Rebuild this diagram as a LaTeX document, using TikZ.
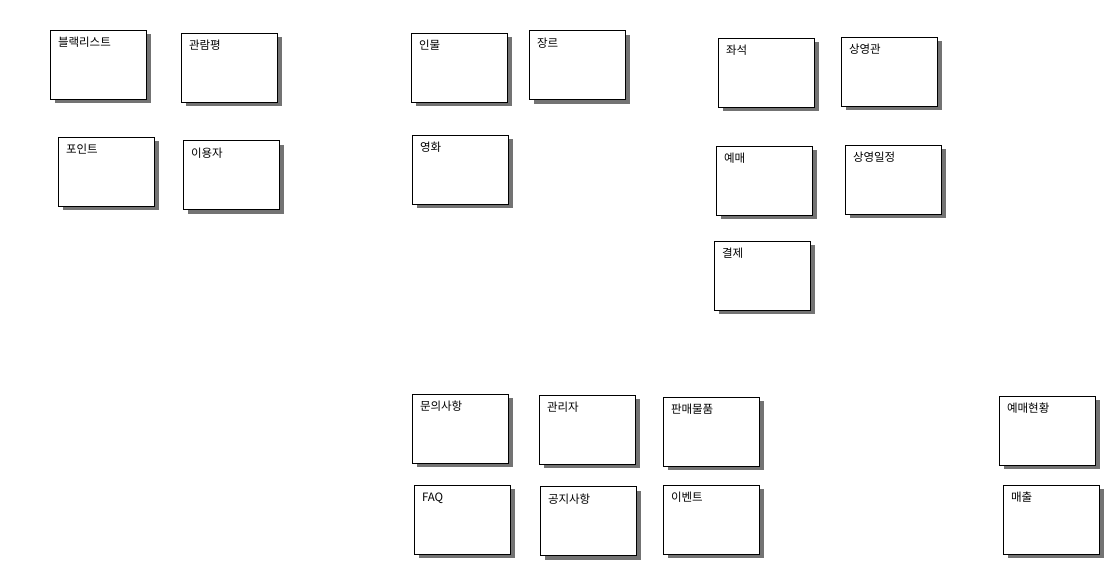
\documentclass[tikz,border=0pt]{standalone}
\usepackage{fontspec}
\setmainfont{Noto Sans CJK KR}
\usetikzlibrary{shapes,shadows}

\begin{document}
\begin{tikzpicture}[x=1pt,y=-1pt,line width=0.9pt,
  entity/.style={rectangle,draw=black,fill=white,minimum width=96pt,minimum height=69pt,
    drop shadow={shadow xshift=4.5pt,shadow yshift=-4pt,fill=black!55,opacity=1}},
  title/.style={anchor=north west,inner sep=0pt,font=\fontsize{11.5pt}{13pt}\selectfont}]
\useasboundingbox (0,0) rectangle (1114,571);
%Entity Boxes
\node at (98,64.5) [entity] (Box1) {};
\node at (229,67.5) [entity] (Box2) {};
\node at (106,171.5) [entity] (Box3) {};
\node at (231,175) [entity] (Box4) {};
\node at (459,67.5) [entity] (Box5) {};
\node at (577,65) [entity] (Box6) {};
\node at (460,169.5) [entity] (Box7) {};
\node at (766,72.5) [entity] (Box8) {};
\node at (889,71.5) [entity] (Box9) {};
\node at (764,180.5) [entity] (Box10) {};
\node at (893,179.5) [entity] (Box11) {};
\node at (762,275.5) [entity] (Box12) {};
\node at (460,428.5) [entity] (Box13) {};
\node at (587,429.5) [entity] (Box14) {};
\node at (711,431.5) [entity] (Box15) {};
\node at (462,519.5) [entity] (Box16) {};
\node at (588,521) [entity] (Box17) {};
\node at (711,519.5) [entity] (Box18) {};
\node at (1047,430.5) [entity] (Box19) {};
\node at (1051,519.5) [entity] (Box20) {};

%Entity Titles
\node [title] at ([xshift=8pt,yshift=-7pt]Box1.north west) {블랙리스트};
\node [title] at ([xshift=8pt,yshift=-7pt]Box2.north west) {관람평};
\node [title] at ([xshift=8pt,yshift=-7pt]Box3.north west) {포인트};
\node [title] at ([xshift=8pt,yshift=-7pt]Box4.north west) {이용자};
\node [title] at ([xshift=8pt,yshift=-7pt]Box5.north west) {인물};
\node [title] at ([xshift=8pt,yshift=-7pt]Box6.north west) {장르};
\node [title] at ([xshift=8pt,yshift=-7pt]Box7.north west) {영화};
\node [title] at ([xshift=8pt,yshift=-7pt]Box8.north west) {좌석};
\node [title] at ([xshift=8pt,yshift=-7pt]Box9.north west) {상영관};
\node [title] at ([xshift=8pt,yshift=-7pt]Box10.north west) {예매};
\node [title] at ([xshift=8pt,yshift=-7pt]Box11.north west) {상영일정};
\node [title] at ([xshift=8pt,yshift=-7pt]Box12.north west) {결제};
\node [title] at ([xshift=8pt,yshift=-7pt]Box13.north west) {문의사항};
\node [title] at ([xshift=8pt,yshift=-7pt]Box14.north west) {관리자};
\node [title] at ([xshift=8pt,yshift=-7pt]Box15.north west) {판매물품};
\node [title] at ([xshift=8pt,yshift=-8pt]Box16.north west) {FAQ};
\node [title] at ([xshift=8pt,yshift=-7pt]Box17.north west) {공지사항};
\node [title] at ([xshift=8pt,yshift=-7pt]Box18.north west) {이벤트};
\node [title] at ([xshift=8pt,yshift=-7pt]Box19.north west) {예매현황};
\node [title] at ([xshift=8pt,yshift=-7pt]Box20.north west) {매출};
\end{tikzpicture}
\end{document}
